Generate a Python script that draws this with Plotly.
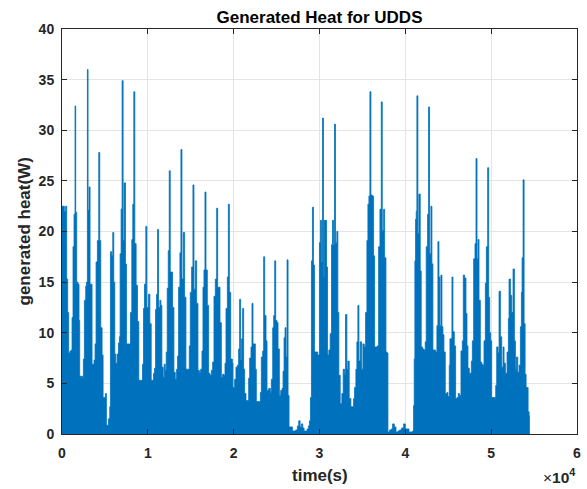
import plotly.graph_objects as go

# time (s) and generated heat (W) envelope
time_s = [
    0, 117, 272, 428, 545, 661, 778, 934, 1089, 1167, 1284, 1401, 1517, 1595, 1712, 1868, 1984,
    2062, 2257, 2412, 2490, 2607, 2763, 2840, 2957, 3035, 3152, 3268, 3385, 3502, 3619, 3735,
    3852, 3969, 4124, 4280, 4397, 4513, 4669, 4786, 4941, 5058, 5175, 5292, 5408, 5564, 5642,
    5797, 5914, 6031, 6148, 6264, 6420, 6575, 6692, 6770, 6887, 7004, 7120, 7237, 7393, 7509,
    7704, 7860, 7976, 8132, 8249, 8366, 8482, 8638, 8794, 8949, 9105, 9260, 9377, 9494, 9611,
    9766, 9883, 9965, 10081, 10237, 10393, 10548, 10665, 10782, 10898, 11015, 11132, 11248,
    11404, 11521, 11638, 11793, 11910, 12027, 12143, 12260, 12377, 12494, 12610, 12766, 12883,
    13038, 13194, 13350, 13466, 13583, 13739, 13856, 13972, 14128, 14284, 14439, 14634, 14828,
    14945, 15101, 15256, 15373, 15529, 15684, 15840, 15996, 16151, 16307, 16424, 16540, 16657,
    16774, 16930, 17085, 17241, 17396, 17552, 17708, 17863, 18019, 18136, 18252, 18408, 18564,
    18719, 18875, 18992, 19108, 19264, 19381, 19498, 19653, 19850, 19917, 20111, 20267, 20423,
    20578, 20695, 20812, 20928, 21045, 21162, 21279, 21434, 21590, 21746, 21862, 22018, 22135,
    22251, 22368, 22524, 22640, 22835, 22991, 23107, 23224, 23380, 23496, 23613, 23769, 23886,
    24080, 24275, 24391, 24547, 24664, 24780, 24897, 25053, 25170, 25325, 25481, 25637, 25753,
    25870, 25987, 26103, 26220, 26337, 26453, 26648, 26842, 27037, 27232, 27426, 27582, 27737,
    27893, 28049, 28204, 28360, 28554, 28710, 28827, 28944, 29060, 29177, 29294, 29411, 29605,
    29800, 29994, 30111, 30228, 30350, 30461, 30543, 30698, 30815, 30932, 31087, 31243, 31399,
    31515, 31632, 31749, 31866, 32021, 32138, 32255, 32410, 32605, 32761, 32916, 33033, 33189,
    33305, 33461, 33656, 33850, 33967, 34084, 34239, 34356, 34473, 34590, 34745, 34901, 35056,
    35212, 35368, 35523, 35640, 35757, 35873, 35990, 36146, 36301, 36418, 36574, 36729, 36885,
    37041, 37196, 37313, 37469, 37586, 37741, 37858, 37975, 38169, 38364, 38520, 38714, 38909,
    39142, 39337, 39570, 39803, 39998, 40192, 40426, 40660, 40854, 40956, 41034, 41112, 41190,
    41268, 41346, 41462, 41579, 41735, 41851, 42007, 42163, 42318, 42435, 42591, 42707, 42824,
    42980, 43096, 43213, 43369, 43524, 43680, 43797, 43914, 44030, 44147, 44264, 44380, 44497,
    44653, 44847, 44964, 45120, 45198, 45314, 45431, 45548, 45703, 45859, 46015, 46170, 46326,
    46482, 46637, 46754, 46910, 47065, 47182, 47299, 47454, 47571, 47688, 47805, 47960, 48116,
    48233, 48349, 48466, 48583, 48738, 48894, 49049, 49166, 49322, 49439, 49594, 49711, 49828,
    49945, 50062, 50217, 50373, 50529, 50645, 50801, 50918, 51074, 51229, 51385, 51501, 51657,
    51852, 52007, 52085, 52241, 52396, 52552, 52707, 52824, 52941, 53097, 53252, 53408, 53525,
    53603, 53719, 53836, 53953, 54069, 54186, 54303, 54420, 54460,
]
heat_w = [
    22.5, 22.5, 22.0, 22.5, 15.3, 12.0, 8.0, 8.2, 8.3, 11.5, 18.5, 21.7, 32.4, 21.9, 15.0, 14.8, 11.2,
    5.7, 5.7, 5.5, 7.4, 13.2, 14.6, 15.0, 36.0, 22.1, 24.4, 14.8, 14.8, 6.9, 6.9, 7.3,
    8.9, 17.0, 19.1, 27.8, 19.1, 10.5, 7.8, 3.6, 3.6, 4.0, 0.9, 0.8, 1.5, 2.7, 18.0,
    17.6, 19.9, 15.0, 7.9, 7.0, 7.9, 9.0, 9.6, 17.8, 22.2, 34.9, 19.1, 24.8, 16.8, 8.9,
    8.9, 8.9, 12.0, 19.2, 22.7, 33.8, 18.8, 14.7, 11.1, 5.3, 5.3, 5.3, 6.9, 12.4, 14.8,
    20.5, 12.5, 12.5, 13.8, 10.9, 5.3, 5.3, 6.0, 6.5, 12.3, 13.8, 20.2, 12.5,
    13.2, 12.7, 6.6, 5.6, 6.9, 6.3, 8.1, 14.4, 18.1, 26.0, 16.0, 16.0, 12.5,
    6.1, 5.4, 6.4, 7.7, 14.5, 17.9, 28.1, 15.3, 19.9, 13.5, 6.4, 6.4, 8.7,
    14.0, 16.5, 24.6, 14.3, 17.1, 12.9, 6.3, 6.1, 6.4, 8.2, 14.5, 16.2, 23.9,
    16.2, 12.7, 6.0, 5.8, 6.3, 7.1, 13.6, 15.3, 22.3, 14.5, 14.5, 11.0, 5.6,
    5.9, 5.8, 7.0, 12.4, 15.5, 22.7, 14.0, 7.4, 7.0, 4.6, 5.4, 6.6, 6.8,
    8.4, 13.3, 7.3, 9.4, 12.4, 6.4, 4.0, 3.3, 3.3, 5.5, 7.5, 8.6, 12.9,
    8.9, 8.9, 6.4, 3.2, 3.2, 3.2, 4.1, 7.6, 8.2, 17.5, 11.7, 9.2, 4.3,
    4.5, 4.1, 5.4, 10.5, 11.7, 17.1, 11.2, 11.0, 8.4, 3.8, 4.3, 4.5, 6.2,
    9.5, 10.5, 7.6, 17.2, 3.8, 0.7, 0.7, 0.3, 0.3, 0.4, 0.8, 1.3, 0.7,
    1.0, 0.6, 0.3, 0.3, 0.5, 0.8, 1.3, 3.6, 17.1, 22.4, 16.7, 8.1, 8.1,
    7.8, 18.9, 21.1, 17.0, 31.2, 15.5, 21.1, 21.1, 16.5, 7.8, 8.3, 9.9, 18.7,
    21.1, 18.7, 30.6, 18.9, 20.0, 12.0, 5.8, 3.0, 4.0, 6.4, 5.9, 11.8, 6.4,
    7.2, 3.5, 2.7, 2.7, 3.5, 4.6, 6.4, 9.1, 12.7, 7.2, 9.1, 6.4, 8.9,
    8.6, 12.0, 19.1, 22.7, 23.5, 33.8, 23.6, 23.5, 17.6, 8.6, 8.6, 8.7, 18.5,
    22.2, 32.8, 20.1, 22.2, 17.4, 8.1, 8.0, 0.2, 0.4, 0.5, 1.0, 0.7, 0.2,
    0.3, 0.4, 0.6, 1.0, 0.5, 0.5, 0.2, 0.2, 0.3, 2.8, 7.4, 17.1, 21.2,
    22.0, 33.4, 19.8, 23.7, 16.1, 8.6, 8.4, 8.3, 9.1, 18.5, 21.7, 32.3, 17.8,
    22.5, 16.8, 8.3, 8.3, 8.1, 10.7, 19.0, 15.5, 10.7, 15.7, 10.6, 9.8, 8.1,
    4.0, 4.1, 3.7, 6.8, 9.4, 9.4, 15.5, 10.1, 8.7, 3.5, 3.6, 4.0, 3.8,
    8.2, 9.2, 15.7, 15.4, 11.9, 8.7, 6.5, 6.0, 6.0, 7.2, 9.2, 17.3, 18.8,
    27.2, 17.3, 19.2, 13.2, 7.1, 6.9, 6.8, 9.2, 14.9, 18.5, 26.3, 13.5, 10.0,
    9.2, 3.6, 3.6, 3.6, 4.8, 8.6, 8.0, 14.1, 9.6, 6.6, 8.6, 7.0, 6.0,
    8.1, 11.4, 15.3, 13.7, 12.0, 16.3, 9.2, 6.4, 7.6, 6.1, 6.8, 10.6, 14.0,
    17.4, 25.1, 10.9, 5.9, 4.6, 4.6, 2.2, 1.8, 0.0,
]

x_tick_vals = [0, 10000, 20000, 30000, 40000, 50000, 60000]
x_tick_text = ["0", "1", "2", "3", "4", "5", "6"]
y_tick_vals = [0, 5, 10, 15, 20, 25, 30, 35, 40]

BLUE = "#0072BD"
INK = "#262626"
FONT = "Liberation Sans, Arial, sans-serif"

fig = go.Figure()
fig.add_trace(go.Scatter(
    x=time_s, y=heat_w, mode="lines", line=dict(color=BLUE, width=0.8, shape="hv"),
    fill="tozeroy", fillcolor=BLUE, hoverinfo="skip", showlegend=False,
))

axis_common = dict(
    showline=True, linecolor=INK, linewidth=1, mirror="allticks",
    ticks="inside", ticklen=5, tickcolor=INK, tickwidth=1,
    showgrid=True, gridcolor="#e4e4e4", gridwidth=1, zeroline=False,
    automargin=False,
    tickfont=dict(family=FONT, size=14, color=INK, weight="bold"),
)

fig.update_layout(
    width=587, height=489,
    margin=dict(l=62, r=10, t=29, b=55),
    paper_bgcolor="white", plot_bgcolor="white",
    title=dict(text="<b>Generated Heat for UDDS</b>", x=0.5, xref="paper", xanchor="center",
               y=1 - 23 / 489, yanchor="bottom", automargin=False,
               font=dict(family=FONT, size=17, color="black")),
    xaxis=dict(range=[0, 60000], tickvals=x_tick_vals, ticktext=x_tick_text,
               ticklabelstandoff=6, **axis_common),
    yaxis=dict(range=[0, 40], tickvals=y_tick_vals, ticklabelstandoff=4, **axis_common),
    annotations=[
        dict(text="<b>time(s)</b>", xref="paper", yref="paper", x=0.5, y=-0.1036,
             xanchor="center", yanchor="middle", showarrow=False,
             font=dict(family=FONT, size=17, color=INK)),
        dict(text="<b>generated heat(W)</b>", xref="paper", yref="paper", x=-0.0719, y=0.5,
             xanchor="center", yanchor="middle", textangle=-90, showarrow=False,
             font=dict(family=FONT, size=17, color=INK)),
        dict(text="×<b>10</b><sup><b>4</b></sup>", xref="paper", yref="paper",
             x=1.0, y=-0.075, xanchor="right", yanchor="top", showarrow=False,
             font=dict(family=FONT, size=15.5, color=INK)),
    ],
)

fig.write_html(
    "out.html",
    config={"displayModeBar": False},
    post_script="document.body.style.margin='0';document.body.style.padding='0';",
)
